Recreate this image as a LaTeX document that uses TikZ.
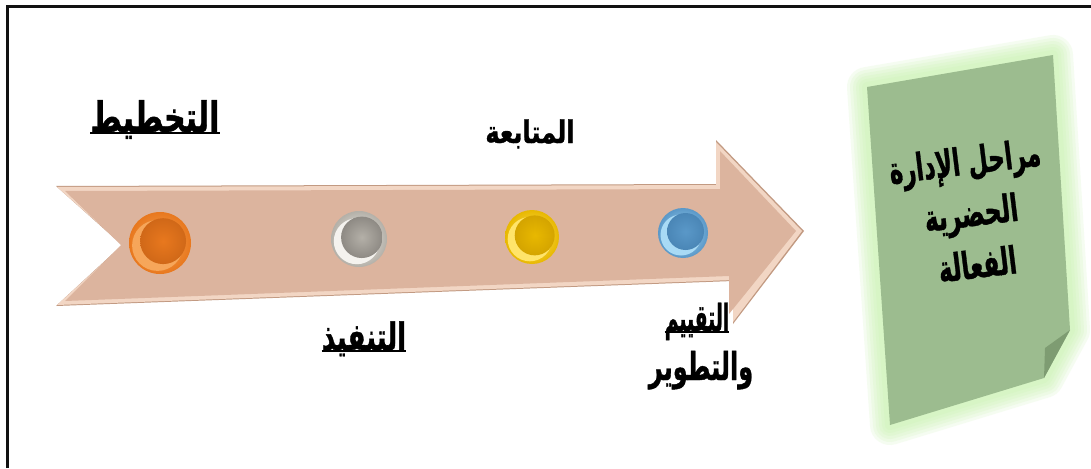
\documentclass[tikz,border=0pt]{standalone}
\usepackage{graphicx}
\usepackage{fontspec}
\newfontfamily\arabicfont[Script=Arabic, BoldFont={DejaVu Sans Bold}, BoldFeatures={FakeBold=1.2}]{DejaVu Sans}
\TeXXeTstate=1
\usetikzlibrary{calc}

\definecolor{framecol}{HTML}{111111}
\definecolor{arrowfill}{HTML}{DCB49E}
\definecolor{arrowedge}{HTML}{C29A82}
\definecolor{arrowlight}{HTML}{F2D6C4}
\definecolor{notefill}{HTML}{9CBC8F}
\definecolor{notefold}{HTML}{7E9C72}
\definecolor{noteglow}{HTML}{C4F2A8}
% button colours: light rim, body, inset disc
\definecolor{orL}{HTML}{F6A65A}\definecolor{orB}{HTML}{E8781E}\definecolor{orI}{HTML}{D06818}
\definecolor{grL}{HTML}{F4F2EE}\definecolor{grB}{HTML}{B4B0A8}\definecolor{grI}{HTML}{8E8A84}
\definecolor{yeL}{HTML}{FFE46A}\definecolor{yeB}{HTML}{E8B800}\definecolor{yeI}{HTML}{D4A400}
\definecolor{blL}{HTML}{A8DAF5}\definecolor{blB}{HTML}{5A98C8}\definecolor{blI}{HTML}{4A86B6}

\tikzset{
  x=1pt, y=-1pt,
  label/.style={inner sep=0pt, anchor=base, text=black},
  underbar/.style={line width=2.6pt, black},
  notetext/.style={inner sep=0pt, rotate=7, text=black, align=center,
    font=\fontsize{26}{52}\selectfont},
}

% bold Arabic word, stretched: font size, x scale, y scale, text
\newcommand{\arword}[4]{{\arabicfont\bfseries\fontsize{#1}{#1}\selectfont\scalebox{#2}[#3]{\beginR #4\endR}}}

% a recessed round button: outer ring, light rim, inset disc
\newcommand{\dimple}[7]{% name, x, y, radius, light, body, inset
  \coordinate (#1) at (#2,#3);
  \shade[inner color=#5, outer color=#6] (#1) circle[radius=#4];
  \fill[#5] ($(#1)+(-0.08*#4,0.08*#4)$) circle[radius=0.82*#4];
  \shade[inner color=#6, outer color=#7] ($(#1)+(0.1*#4,-0.06*#4)$) circle[radius=0.74*#4];
}

\begin{document}
\begin{tikzpicture}
\useasboundingbox (0,0) rectangle (1091,468);
\fill[white] (0,0) rectangle (1091,468);

% frame
\draw[framecol, line width=3pt] (7,468) -- (7,7) -- (1091,7);

% big arrow
\coordinate (a1) at (57,187);
\coordinate (a2) at (716,185);
\coordinate (a3) at (716,142);
\coordinate (a4) at (802,231);
\coordinate (a5) at (733,322);
\coordinate (a6) at (733,280);
\coordinate (a7) at (57,305);
\coordinate (a8) at (123,245);
\fill[arrowedge] ($(a1)+(-1,-1)$) -- ($(a2)+(0,-1)$) -- ($(a3)+(0,-2)$) -- ($(a4)+(2,0)$) -- ($(a5)+(0,2)$) -- ($(a6)+(0,1)$) -- ($(a7)+(-1,1)$) -- ($(a8)+(-1,0)$) -- cycle;
\fill[arrowlight] (a1) -- (a2) -- (a3) -- (a4) -- (a5) -- (a6) -- (a7) -- (a8) -- cycle;
\fill[arrowfill] ($(a1)+(8,4)$) -- ($(a2)+(4,4)$) -- ($(a3)+(4,9)$) -- ($(a4)+(-6,0)$) -- ($(a5)+(-4,-8)$) -- ($(a6)+(-4,-4)$) -- ($(a7)+(8,-4)$) -- ($(a8)+(-2,0)$) -- cycle;

% buttons
\dimple{b1}{160}{243}{31}{orL}{orB}{orI}
\dimple{b2}{359}{239}{28}{grL}{grB}{grI}
\dimple{b3}{532}{237}{27}{yeL}{yeB}{yeI}
\dimple{b4}{683}{233}{25}{blL}{blB}{blI}

% stage labels
\node[label] (plan) at (155,132) {\arword{30}{1}{1.4}{التخطيط}};
\draw[underbar] ($(plan.base west)+(0,1)$) -- ($(plan.base east)+(0,1)$);
\node[label] (follow) at (530,143) {\arword{24}{1}{1.3}{المتابعة}};
\node[label] (exec) at (364,350) {\arword{26}{1}{1.45}{التنفيذ}};
\draw[underbar] ($(exec.base west)+(0,1)$) -- ($(exec.base east)+(0,1)$);
\node[label] (eval) at (697,331) {\arword{24}{0.78}{1.55}{التقييم}};
\draw[underbar] ($(eval.base west)+(0,1)$) -- ($(eval.base east)+(0,1)$);
\node[label] (dev) at (701,380) {\arword{24}{1}{1.6}{والتطوير}};

% green note with a soft glow
\coordinate (n1) at (867,87);
\coordinate (n2) at (1053,55);
\coordinate (n3) at (1070,330);
\coordinate (n4) at (1044,378);
\coordinate (n5) at (890,425);
\foreach \w in {40,34,28,22,16,10} {
  \draw[noteglow, line width=\w pt, line join=round, draw opacity=0.16]
    (n1) -- (n2) -- (n3) -- (n4) -- (n5) -- cycle;
}
\fill[notefill] (n1) -- (n2) -- (n3) -- (n4) -- (n5) -- cycle;
\fill[notefold] (n3) -- (n4) -- (1045,348) -- cycle;
\node[notetext] (title) at (971,212) {%
  \arword{26}{0.88}{1.45}{\beginR مراحل الإدارة\endR}\\
  \arword{26}{0.9}{1.45}{الحضرية}\\
  \arword{26}{0.9}{1.45}{الفعالة}};
\end{tikzpicture}
\end{document}
